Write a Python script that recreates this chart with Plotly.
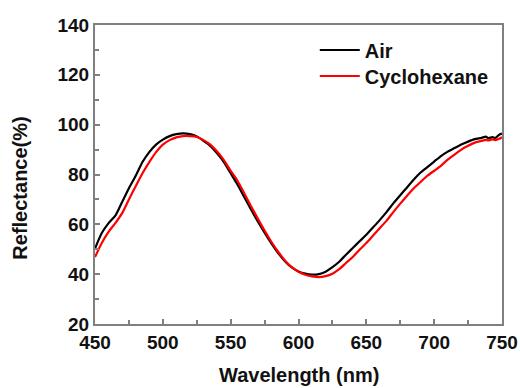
import plotly.graph_objects as go

wavelength = [450, 455, 460, 465, 470, 475, 480, 485, 490, 495, 500, 505, 510, 515, 520,
              525, 530, 535, 540, 545, 550, 555, 560, 565, 570, 575, 580, 585, 590, 595,
              600, 605, 610, 615, 620, 625, 630, 635, 640, 645, 650, 655, 660, 665, 670,
              675, 680, 685, 690, 695, 700, 705, 710, 715, 720, 725, 730, 735, 738, 740,
              743, 745, 748, 750]

air = [50.3, 56.5, 60.5, 63.5, 69.0, 74.5, 79.5, 85.0, 89.0, 92.0, 94.0, 95.4, 96.2, 96.5, 96.2,
       95.3, 93.5, 91.5, 88.5, 85.0, 80.5, 76.0, 71.0, 66.0, 61.2, 56.7, 52.4, 48.5, 45.2, 42.7,
       41.1, 40.2, 39.8, 40.0, 41.0, 42.8, 45.0, 47.8, 50.5, 53.2, 55.8, 58.8, 61.8, 65.0, 68.5,
       71.7, 74.8, 78.0, 80.8, 83.0, 85.2, 87.4, 89.2, 90.6, 92.0, 93.2, 94.2, 94.7, 95.2, 94.6,
       95.0, 94.6, 96.0, 96.4]

cyclohexane = [46.9, 52.5, 57.0, 60.5, 64.5, 70.0, 75.3, 80.5, 85.0, 89.0, 92.0, 93.8, 94.9, 95.4, 95.4,
               95.1, 93.8, 92.0, 89.2, 85.8, 81.5, 77.5, 72.5, 67.3, 62.3, 57.5, 53.0, 49.0, 45.5, 42.8,
               41.0, 39.8, 39.1, 38.8, 39.2, 40.2, 42.0, 44.5, 46.9, 49.8, 52.5, 55.5, 58.5, 61.5, 65.0,
               68.3, 71.5, 74.5, 77.0, 79.5, 81.5, 83.5, 86.0, 88.0, 90.0, 91.5, 92.8, 93.5, 93.9, 93.7,
               94.1, 93.8, 94.3, 95.0]

x_ticks = [450, 500, 550, 600, 650, 700, 750]
y_ticks = [20, 40, 60, 80, 100, 120, 140]

fig = go.Figure()
fig.add_trace(go.Scatter(x=wavelength, y=air, mode="lines", name="<b>Air</b>", legend="legend",
                         line=dict(color="#000000", width=2.2, shape="spline", smoothing=0.6)))
fig.add_trace(go.Scatter(x=wavelength, y=cyclohexane, mode="lines", name="<b>Cyclohexane</b>",
                         legend="legend2",
                         line=dict(color="#ff0000", width=2.2, shape="spline", smoothing=0.6)))

axis_common = dict(
    showgrid=False, zeroline=False, showline=True, linecolor="#808080", linewidth=2,
    mirror=True, ticks="inside", ticklen=5, tickwidth=1.5, tickcolor="#808080",
    tickfont=dict(family="Arial, Liberation Sans, sans-serif", size=19, color="#111111"),
    automargin=False,
)

legend_common = dict(xanchor="left", yanchor="top", font=dict(size=20, color="#111111"),
                     bgcolor="rgba(0,0,0,0)", itemwidth=40)

fig.update_layout(
    width=520, height=388,
    margin=dict(l=95, r=18, t=25, b=64, autoexpand=False),
    paper_bgcolor="white", plot_bgcolor="white",
    font=dict(family="Arial, Liberation Sans, sans-serif", color="#111111"),
    xaxis=dict(range=[450, 750], tickvals=x_ticks, ticktext=[f"<b>{v}</b>" for v in x_ticks],
               minor=dict(ticks="inside", ticklen=4, tickwidth=1.5, tickcolor="#808080", dtick=25, tick0=450),
               **axis_common),
    yaxis=dict(range=[20, 140], tickvals=y_ticks, ticktext=[f"<b>{v}</b>" for v in y_ticks],
               minor=dict(ticks="inside", ticklen=4, tickwidth=1.5, tickcolor="#808080", dtick=10, tick0=20),
               **axis_common),
    legend=dict(x=0.540, y=0.9816, **legend_common),
    legend2=dict(x=0.540, y=0.8946, **legend_common),
    showlegend=True,
)

fig.add_annotation(text="<b>Reflectance(%)</b>", textangle=-90, xref="paper", yref="paper",
                   x=-0.185, y=0.455, xanchor="center", yanchor="middle", showarrow=False,
                   font=dict(size=20, color="#111111"))
fig.add_annotation(text="<b>Wavelength (nm)</b>", xref="paper", yref="paper",
                   x=0.5, y=-0.1706, xanchor="center", yanchor="middle", showarrow=False,
                   font=dict(size=20, color="#111111"))

fig.write_html("out.html")
